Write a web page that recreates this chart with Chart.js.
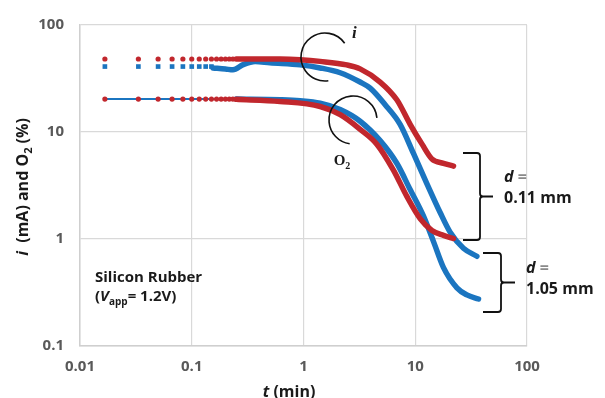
<!DOCTYPE html>
<html>
<head>
<meta charset="utf-8">
<script src="https://cdn.jsdelivr.net/npm/chart.js@4.4.1/dist/chart.umd.min.js"></script>
<style>
  html, body { margin: 0; padding: 0; background: #fff; }
</style>
</head>
<body>
<canvas id="chart" width="605" height="398"></canvas>
<script>
// axis ticks
const xTicks = [0.01, 0.1, 1, 10, 100];
const xLabels = ['0.01', '0.1', '1', '10', '100'];
const yTicks = [0.1, 1, 10, 100];
const yLabels = ['0.1', '1', '10', '100'];

// first samples (1 s apart, in min) - drawn as separate markers
const tEarly = [0.0167, 0.0333, 0.05, 0.0667, 0.0833, 0.1, 0.1167, 0.1333, 0.15, 0.1667, 0.1833, 0.2, 0.2167, 0.2333];
const redIEarly = [48.1, 48.1, 48.1, 48.1, 48.1, 48.1, 48.1, 48.1, 48.1, 48.1, 48.1, 48.1, 48.1, 48.1];
const tBlueEarly = [0.0167, 0.0333, 0.05, 0.0667, 0.0833, 0.1, 0.1167, 0.1333, 0.15];
const blueIEarly = [40.9, 40.9, 40.9, 40.9, 40.9, 40.9, 40.9, 40.9, 40.9];
const o2Early = [20.3, 20.3, 20.3, 20.3, 20.3, 20.3, 20.3, 20.3, 20.3, 20.3, 20.3, 20.3, 20.3, 20.3];

// d = 0.11 mm (red)
const tRedI = [0.25, 0.617, 0.932, 1.41, 2.44, 3.21, 4.85, 6.84, 9.0, 11.5, 14.1, 17.9, 22.0];
const redI = [48.1, 48.0, 47.3, 45.7, 42.4, 38.9, 29.3, 20.0, 11.8, 7.7, 5.6, 5.1, 4.8];
const tRedO2 = [0.25, 0.617, 1.41, 2.13, 3.21, 4.53, 6.38, 8.41, 11.1, 14.1, 17.9, 22.0];
const redO2 = [20.2, 19.3, 17.3, 14.5, 10.6, 7.7, 4.4, 2.5, 1.54, 1.20, 1.08, 1.01];

// d = 1.05 mm (blue)
const tBlueI = [0.155, 0.2, 0.234, 0.288, 0.369, 0.5, 0.932, 1.41, 2.13, 3.21, 3.95, 5.38, 7.32, 9.64, 12.7, 16.7, 20.5, 27.0, 35.6];
const blueI = [39.7, 38.8, 38.1, 42.6, 45.7, 44.4, 42.4, 39.7, 35.8, 29.3, 25.7, 18.0, 11.8, 6.3, 3.3, 1.77, 1.16, 0.82, 0.69];
const tBlueO2 = [0.25, 0.617, 0.932, 1.41, 2.13, 3.21, 4.85, 6.84, 9.0, 11.8, 14.6, 17.9, 23.6, 29.0, 36.8];
const blueO2 = [20.3, 20.0, 19.6, 18.6, 16.2, 12.6, 8.3, 5.1, 2.9, 1.65, 0.94, 0.54, 0.35, 0.30, 0.275];

const RED = '#C1272D';
const BLUE = '#1B75C0';

const pts = (xs, ys) => xs.map((x, i) => ({ x: x, y: ys[i] }));

function dots(xs, ys, color, style, r) {
  return {
    data: pts(xs, ys), showLine: false, pointStyle: style, pointRadius: r,
    pointBackgroundColor: color, pointBorderWidth: 0
  };
}
function curve(xs, ys, color, w) {
  return {
    data: pts(xs, ys), showLine: true, borderColor: color, borderWidth: w, pointRadius: 0,
    cubicInterpolationMode: 'monotone', borderCapStyle: 'round', borderJoinStyle: 'round'
  };
}

// draw text runs one after another
function runs(c, parts, x, y, align) {
  let w = 0;
  parts.forEach(p => { c.font = p.f; w += c.measureText(p.t).width; });
  let cx = align === 'center' ? x - w / 2 : x;
  parts.forEach(p => {
    c.font = p.f;
    c.fillStyle = p.c || '#1a1a1a';
    c.fillText(p.t, cx, y + (p.dy || 0));
    cx += c.measureText(p.t).width;
  });
}

function brace(c, x, y0, y1, xl, xr) {
  const ym = (y0 + y1) / 2;
  c.beginPath();
  c.moveTo(xl, y0);
  c.lineTo(x - 3, y0);
  c.quadraticCurveTo(x, y0, x, y0 + 3);
  c.lineTo(x, ym - 3);
  c.quadraticCurveTo(x, ym, x + 3, ym);
  c.lineTo(xr, ym);
  c.moveTo(x + 3, ym);
  c.quadraticCurveTo(x, ym, x, ym + 3);
  c.lineTo(x, y1 - 3);
  c.quadraticCurveTo(x, y1, x - 3, y1);
  c.lineTo(xl, y1);
  c.stroke();
}

const notes = {
  id: 'notes',
  afterDraw(chart) {
    const c = chart.ctx;
    const deg = Math.PI / 180;
    c.save();
    c.strokeStyle = '#111';
    c.lineWidth = 1.6;
    c.beginPath(); c.arc(325, 57, 24, -35 * deg, 82 * deg, true); c.stroke();
    c.beginPath(); c.arc(353, 120, 24, -5 * deg, 98 * deg, true); c.stroke();
    c.lineWidth = 1.8;
    brace(c, 480, 153, 240, 463, 493);
    brace(c, 501, 253, 312, 483, 515);

    c.textBaseline = 'alphabetic';
    const sans = '"Open Sans", sans-serif';
    runs(c, [{ t: 'i', f: 'italic bold 17px "Liberation Serif"' }], 352, 38, 'left');
    runs(c, [{ t: 'O', f: 'bold 15px "Liberation Serif"' }, { t: '2', f: 'bold 10px "Liberation Serif"', dy: 4 }], 342, 165, 'center');

    runs(c, [{ t: 'd', f: 'italic bold 16px ' + sans }, { t: ' =', f: 'bold 16px ' + sans, c: '#8a8a8a' }], 504, 182, 'left');
    runs(c, [{ t: '0.11 mm', f: 'bold 16px ' + sans }], 504, 203, 'left');
    runs(c, [{ t: 'd', f: 'italic bold 16px ' + sans }, { t: ' =', f: 'bold 16px ' + sans, c: '#8a8a8a' }], 526, 273, 'left');
    runs(c, [{ t: '1.05 mm', f: 'bold 16px ' + sans }], 526, 294, 'left');

    runs(c, [{ t: 'Silicon Rubber', f: 'bold 15px ' + sans }], 95, 282, 'left');
    runs(c, [
      { t: '(', f: 'bold 15px ' + sans },
      { t: 'V', f: 'italic bold 15px ' + sans },
      { t: 'app', f: 'bold 10px ' + sans, dy: 4 },
      { t: '= 1.2V)', f: 'bold 15px ' + sans }
    ], 95, 301, 'left');

    // axis titles
    runs(c, [
      { t: 't', f: 'italic bold 16px ' + sans },
      { t: ' (min)', f: 'bold 16px ' + sans }
    ], 289, 397, 'center');

    c.translate(28, 187);
    c.rotate(-Math.PI / 2);
    runs(c, [
      { t: 'i', f: 'italic bold 16px ' + sans },
      { t: '  (mA) and O', f: 'bold 16px ' + sans },
      { t: '2', f: 'bold 11px ' + sans, dy: 4 },
      { t: ' (%)', f: 'bold 16px ' + sans }
    ], 0, 0, 'center');
    c.restore();
  }
};

const axisFont = { family: '"Open Sans", sans-serif', size: 15, weight: 'bold' };

new Chart(document.getElementById('chart'), {
  type: 'scatter',
  data: {
    datasets: [
      dots(tEarly, redIEarly, RED, 'circle', 2.6),
      curve(tRedI, redI, RED, 5.5),
      dots(tEarly, o2Early, RED, 'circle', 2.6),
      curve(tRedO2, redO2, RED, 5.5),
      dots(tBlueEarly, blueIEarly, BLUE, 'rect', 3.3),
      curve(tBlueI, blueI, BLUE, 5.5),
      curve(tEarly, o2Early, BLUE, 2),
      curve(tBlueO2, blueO2, BLUE, 5.5)
    ]
  },
  options: {
    responsive: false,
    animation: false,
    devicePixelRatio: 1,
    layout: { padding: { left: 0, right: 78, top: 18, bottom: 0 } },
    plugins: { legend: { display: false }, tooltip: { enabled: false } },
    scales: {
      x: {
        type: 'logarithmic', min: 0.01, max: 100,
        afterBuildTicks: s => { s.ticks = xTicks.map(v => ({ value: v })); },
        afterFit: s => { s.height = 52; },
        ticks: { callback: v => xLabels[xTicks.indexOf(v)], font: axisFont, color: '#595959', padding: 12, maxRotation: 0 },
        grid: { color: '#d9d9d9', lineWidth: 1.2, drawTicks: false },
        border: { color: '#cfcfcf', width: 1.5 }
      },
      y: {
        type: 'logarithmic', min: 0.1, max: 100,
        afterBuildTicks: s => { s.ticks = yTicks.map(v => ({ value: v })); },
        afterFit: s => { s.width = 80; },
        ticks: { callback: v => yLabels[yTicks.indexOf(v)], font: axisFont, color: '#595959', padding: 16 },
        grid: { color: '#d9d9d9', lineWidth: 1.2, drawTicks: false },
        border: { color: '#cfcfcf', width: 1.5 }
      }
    }
  },
  plugins: [notes]
});
</script>
</body>
</html>
